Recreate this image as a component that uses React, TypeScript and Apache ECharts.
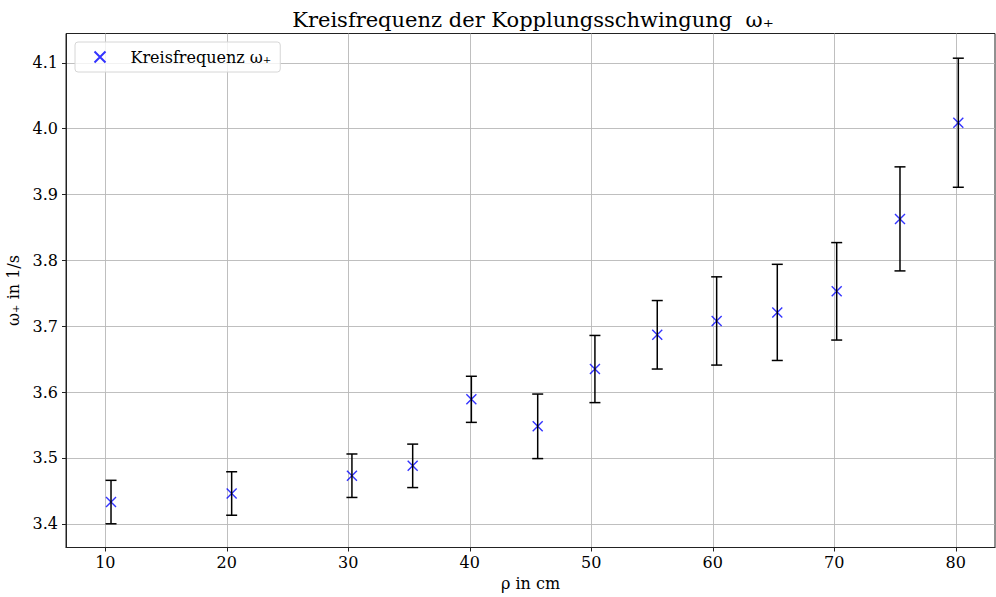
import React, { useEffect, useRef } from "react";
import * as echarts from "echarts";

// rho in cm
const rho = [10.47, 20.4, 30.3, 35.3, 40.13, 45.59, 50.3, 55.43, 60.32, 65.31, 70.2, 75.41, 80.21];
// omega_+ in 1/s
const omega = [3.433, 3.446, 3.473, 3.488, 3.589, 3.548, 3.635, 3.687, 3.708, 3.721, 3.753, 3.863, 4.009];
// uncertainty of omega_+
const omegaErr = [0.033, 0.033, 0.033, 0.033, 0.035, 0.049, 0.051, 0.052, 0.067, 0.073, 0.074, 0.079, 0.098];

const xTickValues = [10, 20, 30, 40, 50, 60, 70, 80];
const yTickValues = [3.4, 3.5, 3.6, 3.7, 3.8, 3.9, 4.0, 4.1];

const seriesName = "Kreisfrequenz ω₊";
const titleText = "Kreisfrequenz der Kopplungsschwingung  ω₊";
const xName = "ρ in cm";
const yName = "ω₊ in 1/s";

const FONT = "DejaVu Serif";
const XMARK = "path://M0,0L10,10M0,10L10,0";

export default function App() {
  const ref = useRef<HTMLDivElement>(null);

  useEffect(() => {
    if (!ref.current) return;
    const chart = echarts.init(ref.current, undefined, { renderer: "svg" });
    const points = rho.map((r, i) => [r, omega[i]]);
    const errData = rho.map((r, i) => [r, omega[i], omegaErr[i]]);

    const option: any = {
      animation: false,
      backgroundColor: "#fff",
      textStyle: { fontFamily: FONT },
      graphic: [
        {
          type: "text",
          x: 533,
          y: 20,
          style: {
            text: titleText,
            fontFamily: FONT,
            fontSize: 21,
            fill: "#000",
            textAlign: "center",
            textVerticalAlign: "middle",
          },
        },
      ],
      grid: {
        left: 66,
        top: 33.5,
        right: 1,
        bottom: 49.5,
        containLabel: false,
        outerBoundsMode: "none",
        show: true,
        borderColor: "#222",
        borderWidth: 1,
        backgroundColor: "transparent",
      },
      legend: {
        left: 75,
        top: 42,
        orient: "vertical",
        data: [{ name: seriesName, icon: XMARK }],
        itemWidth: 11,
        itemHeight: 11,
        padding: [7, 9, 7, 17],
        backgroundColor: "rgba(255,255,255,0.8)",
        borderColor: "#d6d6d6",
        borderWidth: 1,
        borderRadius: 3,
        textStyle: {
          fontFamily: FONT,
          fontSize: 16,
          color: "#000",
          padding: [0, 0, 0, 20],
        },
      },
      xAxis: {
        type: "value",
        min: 6.765,
        max: 83.23,
        splitNumber: 8,
        name: xName,
        nameLocation: "middle",
        nameGap: 28,
        nameTextStyle: { fontFamily: FONT, fontSize: 16, color: "#000" },
        axisLine: { show: true, lineStyle: { color: "#222", width: 1 } },
        axisTick: {
          show: true,
          inside: false,
          length: 4,
          lineStyle: { color: "#222", width: 1 },
          customValues: xTickValues,
        },
        axisLabel: {
          fontFamily: FONT,
          fontSize: 16,
          color: "#000",
          margin: 7,
          customValues: xTickValues,
          formatter: (v: number) => String(v),
        },
        splitLine: { show: true, lineStyle: { color: "#b8b8b8", width: 0.9 } },
      },
      yAxis: {
        type: "value",
        min: 3.364,
        max: 4.1445,
        splitNumber: 8,
        name: yName,
        nameLocation: "middle",
        nameGap: 42,
        nameTextStyle: { fontFamily: FONT, fontSize: 16, color: "#000" },
        axisLine: { show: true, lineStyle: { color: "#222", width: 1 } },
        axisTick: {
          show: true,
          inside: false,
          length: 4,
          lineStyle: { color: "#222", width: 1 },
          customValues: yTickValues,
        },
        axisLabel: {
          fontFamily: FONT,
          fontSize: 16,
          color: "#000",
          margin: 8,
          customValues: yTickValues,
          formatter: (v: number) => v.toFixed(1),
        },
        splitLine: { show: true, lineStyle: { color: "#b8b8b8", width: 0.9 } },
      },
      series: [
        {
          name: seriesName,
          type: "scatter",
          data: points,
          symbol: XMARK,
          symbolSize: 10,
          itemStyle: { color: "none", borderColor: "#0000ff", borderWidth: 1.4 },
          z: 2,
        },
        {
          name: "errorbars",
          type: "custom",
          data: errData,
          encode: { x: 0, y: 1 },
          z: 3,
          renderItem: (params: any, api: any) => {
            const x = api.value(0);
            const y = api.value(1);
            const e = api.value(2);
            const top = api.coord([x, y + e]);
            const bot = api.coord([x, y - e]);
            const half = 5.5;
            const st = { stroke: "#000", lineWidth: 1.5 };
            return {
              type: "group",
              children: [
                { type: "line", shape: { x1: top[0], y1: top[1], x2: bot[0], y2: bot[1] }, style: st },
                { type: "line", shape: { x1: top[0] - half, y1: top[1], x2: top[0] + half, y2: top[1] }, style: st },
                { type: "line", shape: { x1: bot[0] - half, y1: bot[1], x2: bot[0] + half, y2: bot[1] }, style: st },
              ],
            };
          },
        },
      ],
    };
    chart.setOption(option);
    return () => chart.dispose();
  }, []);

  return (
    <div
      ref={ref}
      style={{ position: "fixed", left: 0, top: 0, width: 996, height: 597 }}
    />
  );
}
